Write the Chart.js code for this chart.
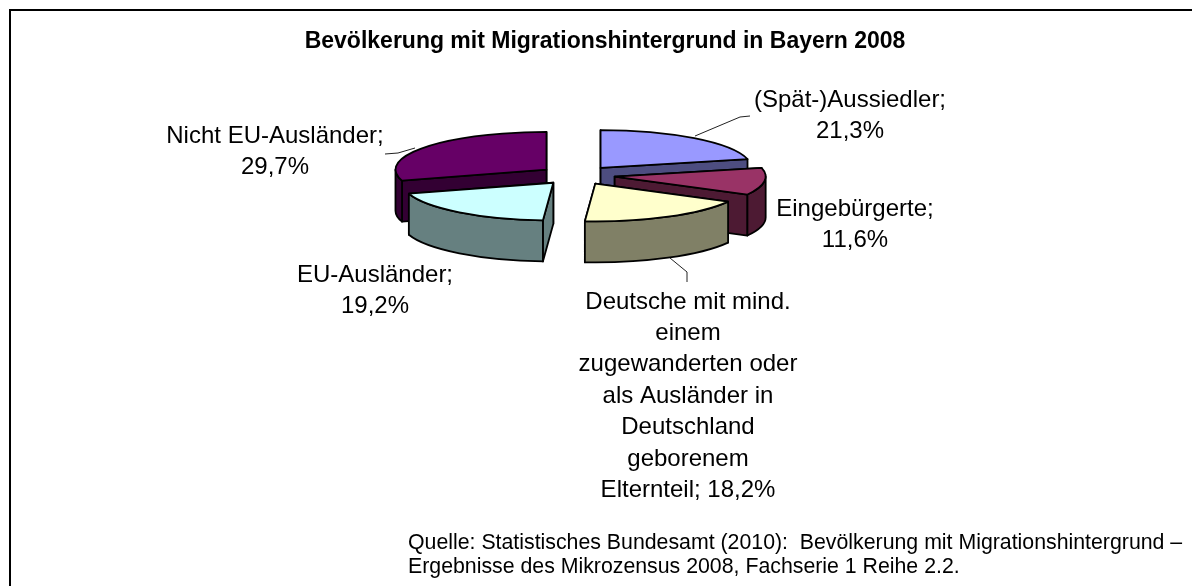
<!DOCTYPE html>
<html><head><meta charset="utf-8">
<style>html,body{margin:0;padding:0;background:#fff}#w{position:relative;width:1192px;height:586px}canvas{display:block}</style>
<script src="https://cdn.jsdelivr.net/npm/chart.js@4/dist/chart.umd.js"></script>
</head><body><div id="w"><canvas id="c" width="1192" height="586"></canvas></div>
<script>
const categories=["(Spät-)Aussiedler","Eingebürgerte","Deutsche mit mind. einem zugewanderten oder als Ausländer in Deutschland geborenem Elternteil","EU-Ausländer","Nicht EU-Ausländer"];
const shares=[21.3,11.6,18.2,19.2,29.7];
const topColors=["#9999FF","#993366","#FFFFCC","#CCFFFF","#660066"];
const wallColors=["#4D4D80","#4D1A33","#808066","#668080","#330033"];
const titleText="Bevölkerung mit Migrationshintergrund in Bayern 2008";
const sourceLines=["Quelle: Statistisches Bundesamt (2010):  Bevölkerung mit Migrationshintergrund –","Ergebnisse des Mikrozensus 2008, Fachserie 1 Reihe 2.2."];
const labelBreaks=[["(Spät-)Aussiedler;"],["Eingebürgerte;"],["Deutsche mit mind.","einem","zugewanderten oder","als Ausländer in","Deutschland","geborenem","Elternteil;"],["EU-Ausländer;"],["Nicht EU-Ausländer;"]];
const labelPos=[[850,100],[855,209],[688,302],[375,275],[275,136]];
const leaders=[[[695,136],[740,117],[750,116]],[],[[670,258],[687,272],[687,282]],[],[[385,154],[398,153],[415,148]]];
const drawOrder=[0,4,1,3,2];
const TILT=0.25,DEPTH=41,EXPLODE=38,RADIUS=151,PIE_SHIFT=-28;
const pct=v=>v.toFixed(1).replace('.',',')+'%';

const pie3d={id:'pie3d',
 beforeDraw(ch){const c=ch.ctx;c.save();c.fillStyle='#fff';c.fillRect(0,0,1192,586);
  c.fillStyle='#000';c.fillRect(9,9,1183,2);c.fillRect(9,9,2,577);c.restore();},
 beforeDatasetDraw(ch,args){
  const c=ch.ctx,arcs=ch.getDatasetMeta(0).data;
  c.save();c.translate(PIE_SHIFT,0);
  for(const i of drawOrder){
   const a=arcs[i],mid=(a.startAngle+a.endAngle)/2,dx=Math.cos(mid)*EXPLODE,dy=Math.sin(mid)*EXPLODE;
   const cx=a.x+dx,cy=a.y+dy*TILT,rx=a.outerRadius,ry=rx*TILT;
   const pt=t=>[cx+Math.cos(t)*rx,cy+Math.sin(t)*ry];
   c.save();c.lineJoin='round';c.lineWidth=1.8;c.strokeStyle='#000';c.fillStyle=wallColors[i];
   const faces=[a.startAngle,a.endAngle].sort((p,q)=>Math.sin(p)-Math.sin(q));
   for(const t of faces){const p=pt(t);c.beginPath();c.moveTo(cx,cy);c.lineTo(p[0],p[1]);c.lineTo(p[0],p[1]+DEPTH);c.lineTo(cx,cy+DEPTH);c.closePath();c.fill();c.stroke();}
   for(const off of [0,2*Math.PI]){
    const s=Math.max(a.startAngle,off),e=Math.min(a.endAngle,off+Math.PI);
    if(e>s){c.beginPath();c.ellipse(cx,cy,rx,ry,0,s,e);c.ellipse(cx,cy+DEPTH,rx,ry,0,e,s,true);c.closePath();c.fill();c.stroke();}
   }
   c.restore();
   c.save();c.translate(a.x,a.y);c.scale(1,TILT);c.translate(-a.x,-a.y);c.translate(dx,dy);a.draw(c);c.restore();
   c.save();c.lineWidth=1.8;c.lineJoin='round';c.strokeStyle='#000';c.beginPath();c.moveTo(cx,cy);c.ellipse(cx,cy,rx,ry,0,a.startAngle,a.endAngle);c.closePath();c.stroke();c.restore();
  }
  c.restore();
  return false;
 },
 afterDraw(ch){
  const c=ch.ctx;c.save();c.fillStyle='#000';c.textBaseline='middle';c.textAlign='center';
  c.font='24px "Liberation Sans"';
  labelBreaks.forEach((lines,i)=>{
   const all=lines.length>1?lines.map((l,j)=>j==lines.length-1?l+' '+pct(shares[i]):l):[...lines,pct(shares[i])];
   all.forEach((l,j)=>c.fillText(l,labelPos[i][0],labelPos[i][1]+j*31.4));
  });
  c.strokeStyle='#222';c.lineWidth=1;
  leaders.forEach(l=>{if(!l.length)return;c.beginPath();l.forEach((p,j)=>j?c.lineTo(p[0],p[1]):c.moveTo(p[0],p[1]));c.stroke();});
  c.textAlign='left';c.font='21.3px "Liberation Sans"';
  sourceLines.forEach((l,j)=>c.fillText(l,408,543+j*24));
  c.restore();
 }};
new Chart(document.getElementById('c'),{type:'pie',
 data:{labels:categories,datasets:[{data:shares,backgroundColor:topColors,borderWidth:0}]},
 options:{responsive:false,animation:false,radius:RADIUS,
  layout:{padding:{left:18,right:0,top:0,bottom:288.4}},
  plugins:{legend:{display:false},tooltip:{enabled:false},
   title:{display:true,text:titleText,color:'#000',font:{family:'"Liberation Sans"',size:23,weight:'bold',lineHeight:1},padding:{top:30,bottom:0}}}},
 plugins:[pie3d]});
</script></body></html>
